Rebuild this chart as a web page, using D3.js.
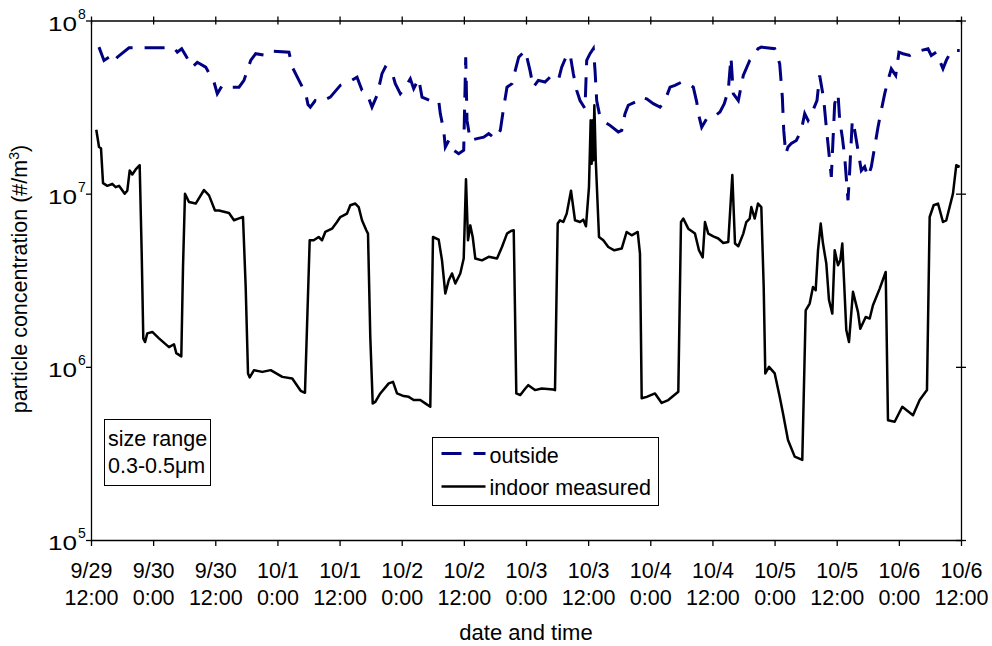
<!DOCTYPE html>
<html lang="en">
<head>
  <meta charset="UTF-8">
  <title>particle concentration</title>
  <script src="https://d3js.org/d3.v7.min.js"></script>
  <style>
    body { margin: 0; background: #fff; }
    svg { display: block; font-family: "Liberation Sans", Arial, sans-serif; }
    .axis path, .axis line { stroke: #000; stroke-width: 1.3px; }
  </style>
</head>
<body>
  <svg id="chart" width="992" height="646"></svg>

  <script>
    // hours after 9/29 12:00, concentration (#/m3)
    const outsideData = [
      [1.54, 7.02e7], [2.51, 5.88e7], [3.48, 6.14e7], [4.44, 5.74e7], [5.08, 6.14e7], [7.34, 6.96e7],
      [16.03, 6.96e7], [16.67, 6.56e7], [17.51, 6.87e7], [18.29, 6.28e7], [19.56, 5.38e7], [20.53, 5.74e7],
      [22.15, 5.38e7], [23.75, 4.41e7], [24.39, 3.78e7], [25.35, 4.22e7], [26.65, 4.12e7], [28.58, 4.12e7],
      [29.54, 4.51e7], [30.84, 5.88e7], [31.80, 6.43e7], [33.74, 6.28e7], [34.70, 6.65e7], [38.23, 6.56e7],
      [38.87, 5.38e7], [40.16, 4.51e7], [41.46, 3.78e7], [41.90, 3.27e7], [42.35, 3.16e7], [43.31, 3.45e7],
      [44.28, 3.38e7], [46.21, 3.61e7], [48.14, 4.22e7], [49.76, 4.41e7], [51.37, 4.71e7], [52.33, 3.95e7],
      [53.30, 3.78e7], [54.26, 3.16e7], [55.23, 3.69e7], [56.19, 4.93e7], [56.83, 5.38e7], [58.12, 5.03e7],
      [58.76, 4.32e7], [59.73, 3.78e7], [60.69, 4.12e7], [61.66, 4.61e7], [62.31, 4.04e7], [63.28, 4.61e7],
      [63.92, 3.61e7], [65.52, 3.45e7], [67.14, 3.45e7], [67.45, 2.90e7], [68.11, 2.32e7], [68.42, 1.86e7],
      [69.08, 2.03e7], [70.04, 1.78e7], [71.00, 1.70e7], [71.97, 1.78e7], [72.36, 6.14e7], [72.61, 2.65e7],
      [73.24, 2.03e7], [74.54, 2.08e7], [75.83, 2.12e7], [76.80, 2.22e7], [78.07, 2.08e7], [79.04, 2.32e7],
      [79.70, 3.16e7], [80.33, 4.12e7], [81.30, 4.32e7], [81.93, 5.15e7], [82.59, 6.14e7], [83.87, 6.71e7],
      [84.77, 5.15e7], [85.41, 4.12e7], [86.38, 4.51e7], [87.67, 4.41e7], [88.64, 4.71e7], [90.24, 4.51e7],
      [90.89, 5.38e7], [91.86, 6.28e7], [92.50, 6.43e7], [93.14, 4.93e7], [93.79, 3.95e7], [94.43, 3.45e7],
      [95.39, 3.10e7], [95.72, 5.88e7], [96.36, 6.43e7], [97.00, 6.87e7], [97.33, 5.15e7], [97.65, 3.45e7],
      [98.29, 2.77e7], [99.25, 2.59e7], [100.22, 2.48e7], [101.82, 2.27e7], [102.48, 2.32e7], [103.12, 2.90e7],
      [103.75, 3.24e7], [105.05, 3.38e7], [106.01, 3.61e7], [107.31, 3.53e7], [108.58, 3.31e7], [109.88, 3.16e7],
      [110.84, 3.45e7], [111.81, 4.12e7], [112.77, 4.22e7], [114.07, 4.41e7], [115.34, 4.32e7], [116.31, 4.12e7],
      [116.97, 3.38e7], [117.28, 2.90e7], [117.93, 2.42e7], [118.90, 2.71e7], [120.17, 2.77e7], [121.46, 2.96e7],
      [122.29, 3.31e7], [123.06, 3.95e7], [123.58, 6.14e7], [124.03, 3.78e7], [125.00, 3.45e7], [125.96, 4.82e7],
      [127.20, 5.88e7], [128.17, 6.43e7], [128.80, 6.87e7], [129.44, 7.02e7], [132.03, 6.87e7], [132.99, 5.62e7],
      [133.50, 3.61e7], [133.77, 2.32e7], [134.16, 1.70e7], [134.59, 1.86e7], [135.23, 1.95e7], [136.20, 2.03e7],
      [137.16, 2.32e7], [137.82, 2.90e7], [138.46, 2.65e7], [139.42, 3.03e7], [140.19, 3.45e7], [140.71, 4.82e7],
      [141.48, 3.53e7], [141.99, 2.42e7], [142.51, 1.70e7], [142.96, 1.25e7], [143.28, 2.03e7], [143.61, 3.31e7],
      [144.25, 3.78e7], [144.58, 2.65e7], [145.08, 2.12e7], [145.54, 1.63e7], [146.18, 9.16e6], [146.51, 1.36e7],
      [147.01, 2.65e7], [147.47, 2.32e7], [148.11, 1.78e7], [148.75, 1.36e7], [149.40, 1.43e7], [150.04, 1.25e7],
      [150.68, 1.43e7], [151.33, 1.86e7], [151.97, 2.42e7], [152.61, 3.03e7], [153.27, 3.78e7], [153.90, 4.51e7],
      [154.54, 5.26e7], [155.39, 4.82e7], [156.02, 6.56e7], [156.80, 6.43e7], [158.09, 6.28e7], [159.06, 6.56e7],
      [161.63, 6.87e7], [162.26, 6.28e7], [163.23, 6.56e7], [164.52, 5.26e7], [165.16, 5.88e7], [166.13, 6.71e7],
      [167.75, 6.71e7]
    ];

    const indoorData = [
      [1.02, 2.34e7], [1.55, 1.86e7], [1.93, 1.83e7], [2.32, 1.15e7], [3.15, 1.11e7], [4.11, 1.14e7],
      [4.77, 1.09e7], [5.41, 1.11e7], [6.51, 1.00e7], [7.01, 1.04e7], [7.47, 1.36e7], [7.98, 1.29e7],
      [8.63, 1.38e7], [9.40, 1.46e7], [9.79, 4.53e6], [10.10, 1.46e6], [10.43, 1.39e6], [10.87, 1.56e6],
      [11.84, 1.59e6], [13.13, 1.46e6], [15.06, 1.30e6], [16.03, 1.35e6], [16.47, 1.20e6], [17.44, 1.15e6],
      [17.77, 3.78e6], [18.15, 1.00e7], [18.92, 8.95e6], [20.22, 8.77e6], [21.82, 1.05e7], [22.79, 9.78e6],
      [23.94, 8.00e6], [24.72, 8.00e6], [26.65, 7.73e6], [27.61, 7.02e6], [28.44, 7.18e6], [29.35, 7.33e6],
      [29.87, 2.89e6], [30.32, 9.16e5], [30.65, 8.69e5], [31.48, 9.57e5], [33.08, 9.35e5], [34.70, 9.57e5],
      [36.94, 8.75e5], [38.87, 8.57e5], [39.53, 8.02e5], [40.49, 7.27e5], [41.32, 7.08e5], [42.23, 5.38e6],
      [43.00, 5.38e6], [43.97, 5.62e6], [44.61, 5.38e6], [45.24, 6.01e6], [46.54, 6.28e6], [47.50, 6.86e6],
      [48.14, 7.33e6], [49.43, 7.67e6], [50.07, 8.57e6], [51.04, 8.77e6], [51.69, 8.37e6], [52.33, 7.02e6],
      [53.16, 6.15e6], [53.49, 5.88e6], [53.93, 1.49e6], [54.40, 6.15e5], [54.90, 6.28e5], [55.86, 7.02e5],
      [57.49, 8.02e5], [58.32, 8.19e5], [59.09, 7.02e5], [60.38, 6.78e5], [61.35, 6.71e5], [62.31, 6.43e5],
      [63.59, 6.43e5], [64.55, 6.15e5], [65.52, 5.88e5], [66.04, 5.62e6], [67.14, 5.43e6], [67.78, 4.12e6],
      [68.42, 2.65e6], [69.08, 3.16e6], [69.71, 3.46e6], [70.35, 3.03e6], [71.31, 3.46e6], [71.97, 4.22e6],
      [72.41, 1.21e7], [72.80, 5.38e6], [73.24, 6.56e6], [73.71, 5.62e6], [74.21, 4.22e6], [75.50, 4.12e6],
      [76.80, 4.32e6], [78.40, 4.22e6], [79.36, 4.92e6], [80.33, 5.88e6], [81.10, 6.09e6], [81.63, 6.15e6],
      [82.13, 7.02e5], [82.90, 6.87e5], [83.87, 7.50e5], [84.45, 7.84e5], [85.74, 7.34e5], [87.03, 7.50e5],
      [89.27, 7.40e5], [89.60, 7.34e5], [90.12, 6.72e6], [90.56, 7.02e6], [91.20, 6.86e6], [91.86, 7.67e6],
      [92.69, 1.04e7], [93.46, 7.02e6], [94.43, 6.86e6], [95.06, 7.08e6], [95.58, 6.48e6], [96.16, 1.09e7],
      [96.49, 2.65e7], [96.68, 1.49e7], [96.84, 2.65e7], [97.00, 1.56e7], [97.20, 3.24e7], [97.47, 1.56e7],
      [98.10, 5.62e6], [98.93, 5.38e6], [99.89, 4.92e6], [101.05, 4.71e6], [102.48, 4.82e6], [103.44, 6.01e6],
      [104.41, 5.75e6], [105.57, 6.01e6], [106.01, 4.51e6], [106.34, 6.58e5], [107.31, 6.71e5], [108.91, 7.02e5],
      [110.20, 6.19e5], [111.48, 6.43e5], [113.41, 7.18e5], [113.93, 6.86e6], [114.37, 7.18e6], [115.34, 6.28e6],
      [116.63, 5.88e6], [117.40, 4.71e6], [118.12, 4.28e6], [118.56, 6.86e6], [119.20, 5.88e6], [120.17, 5.67e6],
      [121.13, 5.51e6], [122.10, 5.19e6], [123.06, 5.26e6], [123.84, 1.28e7], [124.36, 5.15e6], [125.00, 4.97e6],
      [125.96, 5.88e6], [126.54, 6.86e6], [127.20, 7.18e6], [127.51, 8.37e6], [128.17, 7.18e6], [128.80, 8.77e6],
      [129.44, 8.37e6], [129.90, 2.89e6], [130.21, 9.16e5], [130.93, 1.00e6], [132.03, 9.16e5], [132.99, 6.71e5],
      [133.63, 5.38e5], [134.59, 3.78e5], [135.89, 3.03e5], [137.35, 2.90e5], [138.01, 2.12e6], [138.78, 2.32e6],
      [139.42, 2.89e6], [139.94, 2.77e6], [140.39, 4.71e6], [140.91, 6.72e6], [141.35, 5.15e6], [141.99, 3.95e6],
      [142.51, 2.43e6], [143.15, 2.03e6], [143.61, 4.71e6], [144.25, 3.86e6], [144.69, 4.12e6], [145.08, 5.15e6],
      [145.41, 3.16e6], [145.85, 1.63e6], [146.37, 1.39e6], [147.14, 2.71e6], [148.11, 2.07e6], [148.55, 1.66e6],
      [149.60, 1.94e6], [150.37, 1.90e6], [151.00, 2.27e6], [152.30, 2.83e6], [153.46, 3.53e6], [153.90, 4.92e5],
      [155.19, 4.82e5], [156.66, 5.88e5], [158.73, 5.26e5], [160.02, 6.43e5], [161.43, 7.34e5], [161.95, 7.33e6],
      [162.72, 8.57e6], [163.56, 8.77e6], [164.52, 6.86e6], [165.16, 7.02e6], [166.45, 1.00e7], [167.09, 1.46e7],
      [167.75, 1.43e7]
    ];

    const tickHours = [0, 12, 24, 36, 48, 60, 72, 84, 96, 108, 120, 132, 144, 156, 168];
    const tickDates = ["9/29", "9/30", "9/30", "10/1", "10/1", "10/2", "10/2", "10/3", "10/3", "10/4", "10/4", "10/5", "10/5", "10/6", "10/6"];
    const tickTimes = ["12:00", "0:00", "12:00", "0:00", "12:00", "0:00", "12:00", "0:00", "12:00", "0:00", "12:00", "0:00", "12:00", "0:00", "12:00"];
    const yTicks = [1e5, 1e6, 1e7, 1e8];

    const font = '"Liberation Sans", Arial, sans-serif';
    const svg = d3.select("#chart");
    const plotL = 91, plotR = 961, plotT = 20.5, plotB = 540;

    const x = d3.scaleLinear().domain([0, 168]).range([plotL, plotR]);
    const y = d3.scaleLog().domain([1e5, 1e8]).range([plotB, plotT]);

    // axes
    const gx = svg.append("g").attr("class", "axis")
      .attr("transform", `translate(0,${plotB})`)
      .call(d3.axisBottom(x).tickValues(tickHours).tickSize(6).tickSizeOuter(0).tickFormat(""))
      .attr("font-family", font);
    gx.selectAll(".tick").append("text")
      .attr("fill", "#000").attr("text-anchor", "middle").style("font-size", "21.5px")
      .each(function(d, i) {
        const t = d3.select(this);
        t.append("tspan").attr("x", 0).attr("y", 38).text(tickDates[i]);
        t.append("tspan").attr("x", 0).attr("y", 65).text(tickTimes[i]);
      });

    const gt = svg.append("g").attr("class", "axis")
      .attr("transform", `translate(0,${plotT})`)
      .call(d3.axisTop(x).tickValues(tickHours).tickSize(4).tickSizeOuter(0).tickFormat(""));
    gt.selectAll(".tick line").attr("y1", 4).attr("y2", -4);

    const gy = svg.append("g").attr("class", "axis")
      .attr("transform", `translate(${plotL},0)`)
      .call(d3.axisLeft(y).tickValues(yTicks).tickSize(5).tickSizeOuter(0).tickFormat(""))
      .attr("font-family", font).attr("text-anchor", "start");
    gy.selectAll(".tick").each(function(d) {
      const t = d3.select(this);
      t.append("text").attr("x", -43).attr("y", 9.5).attr("fill", "#000")
        .style("font-size", "21px").attr("textLength", 29).attr("lengthAdjust", "spacingAndGlyphs")
        .text("10");
      t.append("text").attr("x", -13).attr("y", -2.5).attr("fill", "#000")
        .style("font-size", "14px").text(Math.round(Math.log10(d)));
    });

    const gr = svg.append("g").attr("class", "axis")
      .attr("transform", `translate(${plotR},0)`)
      .call(d3.axisRight(y).tickValues(yTicks).tickSize(5).tickSizeOuter(0).tickFormat(""));
    gr.selectAll(".tick line").attr("x1", -5).attr("x2", 5);

    // series
    const line = d3.line().x(d => x(d[0])).y(d => y(d[1]));

    svg.append("path").datum(outsideData)
      .attr("fill", "none").attr("stroke", "#000080").attr("stroke-width", 3)
      .attr("stroke-dasharray", "20,12").attr("d", line);

    svg.append("path").datum(indoorData)
      .attr("fill", "none").attr("stroke", "#000").attr("stroke-width", 2.5)
      .attr("stroke-linejoin", "round").attr("d", line);

    // axis titles
    svg.append("text").attr("x", (plotL + plotR) / 2).attr("y", 640)
      .attr("text-anchor", "middle").style("font-size", "22px").text("date and time");

    const yl = svg.append("text")
      .attr("transform", "translate(27,279) rotate(-90)")
      .attr("text-anchor", "middle").style("font-size", "21.5px");
    yl.append("tspan").text("particle concentration (#/m");
    yl.append("tspan").attr("dy", -8).style("font-size", "14px").text("3");
    yl.append("tspan").attr("dy", 8).text(")");

    // size note
    svg.append("rect").attr("x", 104.5).attr("y", 419.5).attr("width", 106).attr("height", 66)
      .attr("fill", "#fff").attr("stroke", "#000").attr("stroke-width", 1);
    svg.append("text").attr("x", 108).attr("y", 446).style("font-size", "21.5px").text("size range");
    svg.append("text").attr("x", 108).attr("y", 473).style("font-size", "21.5px").text("0.3-0.5μm");

    // legend
    const lg = svg.append("g").attr("transform", "translate(432.5,437.5)");
    lg.append("rect").attr("width", 226).attr("height", 68)
      .attr("fill", "#fff").attr("stroke", "#000").attr("stroke-width", 1);
    lg.append("line").attr("x1", 9).attr("x2", 53).attr("y1", 16).attr("y2", 16)
      .attr("stroke", "#000080").attr("stroke-width", 3).attr("stroke-dasharray", "20,12");
    lg.append("line").attr("x1", 9).attr("x2", 53).attr("y1", 49).attr("y2", 49)
      .attr("stroke", "#000").attr("stroke-width", 2.5);
    lg.append("text").attr("x", 57).attr("y", 25).style("font-size", "21.5px").text("outside");
    lg.append("text").attr("x", 57).attr("y", 57).style("font-size", "21.5px").text("indoor measured");
  </script>
</body>
</html>
